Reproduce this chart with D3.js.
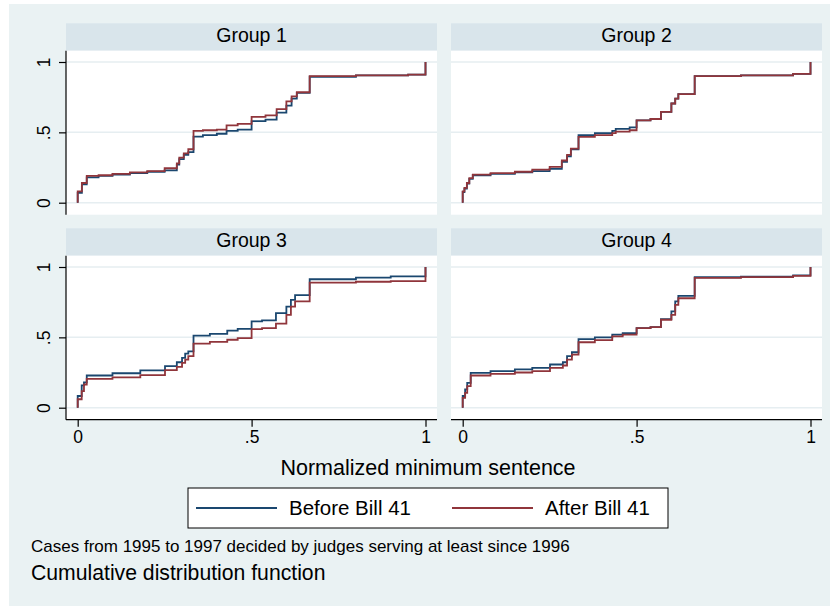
<!DOCTYPE html>
<html>
<head>
<meta charset="utf-8">
<script src="https://cdn.jsdelivr.net/npm/d3@7"></script>
<style>
  body { margin: 0; background: #fff; }
  text { font-family: "Liberation Sans", Arial, sans-serif; fill: #000; }
</style>
</head>
<body>
<svg id="chart" width="830" height="606"></svg>
<script>
// panel titles, legend names, ticks
var groups = ["Group 1", "Group 2", "Group 3", "Group 4"];
var seriesNames = ["Before Bill 41", "After Bill 41"];
var xTicks = [0, 0.5, 1];
var xTickLabels = ["0", ".5", "1"];
var yTicks = [0, 0.5, 1];
var yTickLabels = ["0", ".5", "1"];

// empirical CDF steps: [normalized minimum sentence, cumulative share]
var g1Before = [[0,.07],[.012,.13],[.026,.18],[.06,.19],[.1,.2],[.15,.21],[.2,.22],[.25,.23],[.285,.27],[.292,.31],[.305,.34],[.318,.36],[.333,.47],[.36,.48],[.4,.49],[.428,.51],[.46,.52],[.5,.58],[.54,.59],[.572,.64],[.6,.69],[.615,.74],[.63,.78],[.667,.895],[.8,.905],[.95,.91],[1,1]];
var g1After  = [[0,.08],[.012,.14],[.026,.19],[.06,.195],[.1,.205],[.15,.215],[.2,.225],[.25,.245],[.285,.28],[.292,.32],[.305,.35],[.318,.38],[.333,.51],[.36,.515],[.4,.52],[.428,.55],[.46,.56],[.5,.61],[.54,.62],[.572,.665],[.6,.72],[.615,.755],[.63,.785],[.667,.9],[.8,.905],[.95,.91],[1,1]];
var g2Before = [[0,.076],[.005,.1],[.012,.135],[.019,.17],[.029,.195],[.08,.205],[.15,.215],[.2,.225],[.25,.24],[.285,.29],[.3,.33],[.311,.38],[.333,.48],[.38,.495],[.43,.51],[.44,.525],[.48,.535],[.5,.585],[.54,.595],[.57,.645],[.6,.705],[.611,.74],[.62,.772],[.667,.9],[.8,.905],[.95,.915],[1,1]];
var g2After  = [[0,.08],[.005,.105],[.012,.14],[.019,.175],[.029,.2],[.08,.21],[.15,.22],[.2,.235],[.25,.255],[.285,.3],[.3,.34],[.311,.385],[.333,.468],[.38,.48],[.43,.495],[.44,.505],[.48,.515],[.5,.585],[.54,.595],[.57,.645],[.6,.705],[.611,.74],[.62,.772],[.667,.9],[.8,.905],[.95,.915],[1,1]];
var g3Before = [[0,.083],[.0115,.158],[.018,.18],[.026,.229],[.1,.245],[.18,.265],[.251,.295],[.285,.323],[.3,.354],[.309,.384],[.318,.4],[.333,.512],[.38,.525],[.43,.548],[.46,.56],[.5,.613],[.53,.62],[.57,.672],[.6,.719],[.613,.767],[.625,.8],[.667,.913],[.8,.925],[.9,.933],[1,1]];
var g3After  = [[0,.06],[.0115,.118],[.018,.165],[.026,.205],[.1,.215],[.18,.232],[.251,.267],[.285,.29],[.3,.318],[.309,.342],[.318,.366],[.333,.455],[.38,.468],[.43,.483],[.46,.495],[.5,.559],[.53,.566],[.57,.597],[.6,.66],[.613,.719],[.625,.755],[.667,.889],[.8,.895],[.9,.9],[1,1]];
var g4Before = [[0,.083],[.007,.13],[.013,.177],[.023,.248],[.08,.26],[.15,.272],[.2,.283],[.251,.307],[.288,.323],[.3,.366],[.314,.394],[.333,.488],[.38,.5],[.43,.519],[.46,.53],[.5,.566],[.54,.572],[.57,.63],[.6,.684],[.611,.755],[.62,.795],[.667,.927],[.8,.932],[.95,.94],[1,1]];
var g4After  = [[0,.07],[.007,.106],[.013,.153],[.023,.229],[.08,.24],[.15,.25],[.2,.26],[.251,.283],[.288,.3],[.3,.342],[.314,.377],[.333,.465],[.38,.48],[.43,.507],[.46,.52],[.5,.566],[.54,.572],[.57,.625],[.6,.66],[.611,.731],[.62,.778],[.667,.922],[.8,.928],[.95,.937],[1,1]];

var panelData = [[g1Before, g1After], [g2Before, g2After], [g3Before, g3After], [g4Before, g4After]];
var colors = ["#1a476f", "#90353b"];

var svg = d3.select("#chart");

// outer graph region (thin white margin at top/left like the original)
svg.append("rect").attr("x", 9).attr("y", 4).attr("width", 821).attr("height", 602).attr("fill", "#eaf2f3");

var colX = [66, 451], rowY = [23.3, 228.3];
var pw = 371, stripH = 27.4, ph = 164;

var xScale = d3.scaleLinear().domain([0, 1]).range([11.7, 359.5]);
var yScale = d3.scaleLinear().domain([0, 1]).range([152, 11.3]);

var line = d3.line()
    .x(function(d) { return xScale(d[0]); })
    .y(function(d) { return yScale(d[1]); })
    .curve(d3.curveStepAfter);

groups.forEach(function(name, i) {
    var col = i % 2, row = Math.floor(i / 2);
    var g = svg.append("g").attr("transform", "translate(" + colX[col] + "," + rowY[row] + ")");

    // strip title
    g.append("rect").attr("width", pw).attr("height", stripH).attr("fill", "#d9e5eb");
    g.append("text").attr("x", pw / 2).attr("y", 18.5).attr("text-anchor", "middle")
        .style("font-size", "19.5px").text(name);

    var p = g.append("g").attr("transform", "translate(0," + stripH + ")");
    p.append("rect").attr("width", pw).attr("height", ph).attr("fill", "#fff");

    // gridlines
    p.selectAll(".grid").data(yTicks).enter().append("line")
        .attr("x1", 0).attr("x2", pw)
        .attr("y1", function(d) { return yScale(d); })
        .attr("y2", function(d) { return yScale(d); })
        .attr("stroke", "#e6eef1").attr("stroke-width", 1.5);

    // step CDFs, before then after on top
    panelData[i].forEach(function(series, s) {
        p.append("path")
            .attr("d", line([[0, 0]].concat(series)))
            .attr("fill", "none")
            .attr("stroke", colors[s])
            .attr("stroke-width", 1.8);
    });

    // y axis on left column
    if (col === 0) {
        var yAxis = d3.axisLeft(yScale).tickValues(yTicks)
            .tickFormat(function(d, k) { return yTickLabels[k]; })
            .tickSize(7).tickSizeOuter(0);
        var ya = p.append("g").call(yAxis);
        ya.select(".domain").attr("d", "M0,0V" + ph);
        ya.selectAll("text")
            .style("font-size", "17.5px")
            .attr("text-anchor", "middle")
            .attr("transform", "rotate(-90)")
            .attr("x", 0)
            .attr("y", -16)
            .attr("dy", 0);
    }

    // x axis on bottom row
    if (row === 1) {
        var xAxis = d3.axisBottom(xScale).tickValues(xTicks)
            .tickFormat(function(d, k) { return xTickLabels[k]; })
            .tickSize(7).tickSizeOuter(0).tickPadding(4);
        var xa = p.append("g").attr("transform", "translate(0," + ph + ")").call(xAxis);
        xa.select(".domain").attr("d", "M0,0H" + pw);
        xa.selectAll("text").style("font-size", "17.5px");
    }
    p.selectAll(".domain, .tick line").attr("stroke", "#000").attr("stroke-width", 1.2);
});

// x axis title
svg.append("text").attr("x", 428).attr("y", 475).attr("text-anchor", "middle")
    .style("font-size", "21.5px").text("Normalized minimum sentence");

// legend
var legend = svg.append("g").attr("transform", "translate(188,488)");
legend.append("rect").attr("width", 480).attr("height", 40)
    .attr("fill", "#fff").attr("stroke", "#000").attr("stroke-width", 1);
var items = legend.selectAll(".item").data(seriesNames).enter().append("g")
    .attr("transform", function(d, i) { return "translate(" + (8 + i * 256) + ",0)"; });
items.append("line").attr("x1", 0).attr("x2", 81).attr("y1", 20).attr("y2", 20)
    .attr("stroke", function(d, i) { return colors[i]; }).attr("stroke-width", 1.8);
items.append("text").attr("x", 93).attr("y", 27).style("font-size", "20.5px").text(function(d) { return d; });

// note and caption
svg.append("text").attr("x", 31).attr("y", 552).style("font-size", "17px")
    .text("Cases from 1995 to 1997 decided by judges serving at least since 1996");
svg.append("text").attr("x", 31).attr("y", 580).style("font-size", "21.2px")
    .text("Cumulative distribution function");
</script>
</body>
</html>
